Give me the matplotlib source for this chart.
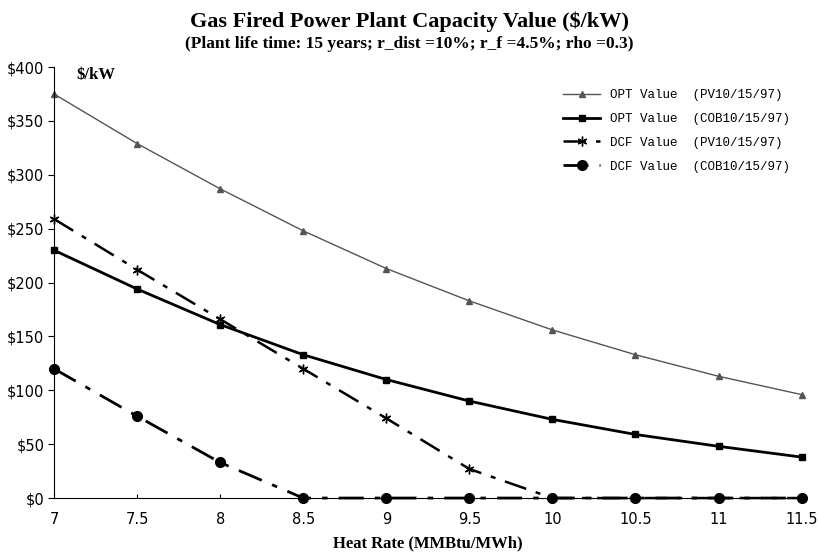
import matplotlib.pyplot as plt

heat_rate = [7, 7.5, 8, 8.5, 9, 9.5, 10, 10.5, 11, 11.5]
opt_pv = [375, 329, 287, 248, 213, 183, 156, 133, 113, 96]
opt_cob = [230, 194, 161, 133, 110, 90, 73, 59, 48, 38]
dcf_pv = [259, 212, 166, 120, 74, 27, 0, 0, 0, 0]
dcf_cob = [120, 76, 33, 0, 0, 0, 0, 0, 0, 0]
y_ticks = [0, 50, 100, 150, 200, 250, 300, 350, 400]
x_ticks = [7, 7.5, 8, 8.5, 9, 9.5, 10, 10.5, 11, 11.5]

fig = plt.figure(figsize=(8.18, 5.54), dpi=100)
ax = fig.add_axes([0.066, 0.101, 0.914, 0.778])

dd = (0, (9, 4, 2, 4))
ax.plot(heat_rate, opt_pv, color='#555555', lw=1.0, marker='^', ms=5,
        label='OPT Value  (PV10/15/97)')
ax.plot(heat_rate, opt_cob, color='black', lw=2.0, marker='s', ms=5,
        label='OPT Value  (COB10/15/97)')
ax.plot(heat_rate, dcf_pv, color='black', lw=1.8, ls=dd, marker=(6, 2, 0), ms=7,
        mew=1.0, label='DCF Value  (PV10/15/97)')
ax.plot(heat_rate, dcf_cob, color='black', lw=2.0, ls=dd, marker='o', ms=7,
        label='DCF Value  (COB10/15/97)')

ax.set_xlim(7, 11.5)
ax.set_ylim(0, 400)
ax.set_xticks(x_ticks)
ax.set_xticklabels([f'{v:g}' for v in x_ticks], family='DejaVu Sans', fontsize=10.5)
ax.set_yticks(y_ticks)
ax.set_yticklabels([f'${v}' for v in y_ticks], family='DejaVu Sans', fontsize=10.5)
ax.spines['top'].set_visible(False)
ax.spines['right'].set_visible(False)
ax.tick_params(axis='y', direction='out', length=4, pad=3)
ax.tick_params(axis='x', direction='in', length=3, pad=10)
for ln in ax.lines:
    ln.set_clip_on(False)

ax.text(0.03, 1.0, '$/kW', transform=ax.transAxes, family='Liberation Serif',
        weight='bold', fontsize=12, va='top')

fig.text(0.5, 0.98, 'Gas Fired Power Plant Capacity Value ($/kW)', ha='center', va='top',
         family='Liberation Serif', weight='bold', fontsize=16)
fig.text(0.5, 0.935, '(Plant life time: 15 years; r_dist =10%; r_f =4.5%; rho =0.3)',
         ha='center', va='top', family='Liberation Serif', weight='bold', fontsize=12.5)
ax.set_xlabel('Heat Rate (MMBtu/MWh)', family='Liberation Serif', weight='bold',
              fontsize=12, labelpad=6)

leg = ax.legend(loc='upper right', bbox_to_anchor=(1.0, 0.975), frameon=False,
                prop={'family': 'Liberation Mono', 'size': 9}, handlelength=3,
                labelspacing=0.95)

fig.savefig('out.png', dpi=100)
